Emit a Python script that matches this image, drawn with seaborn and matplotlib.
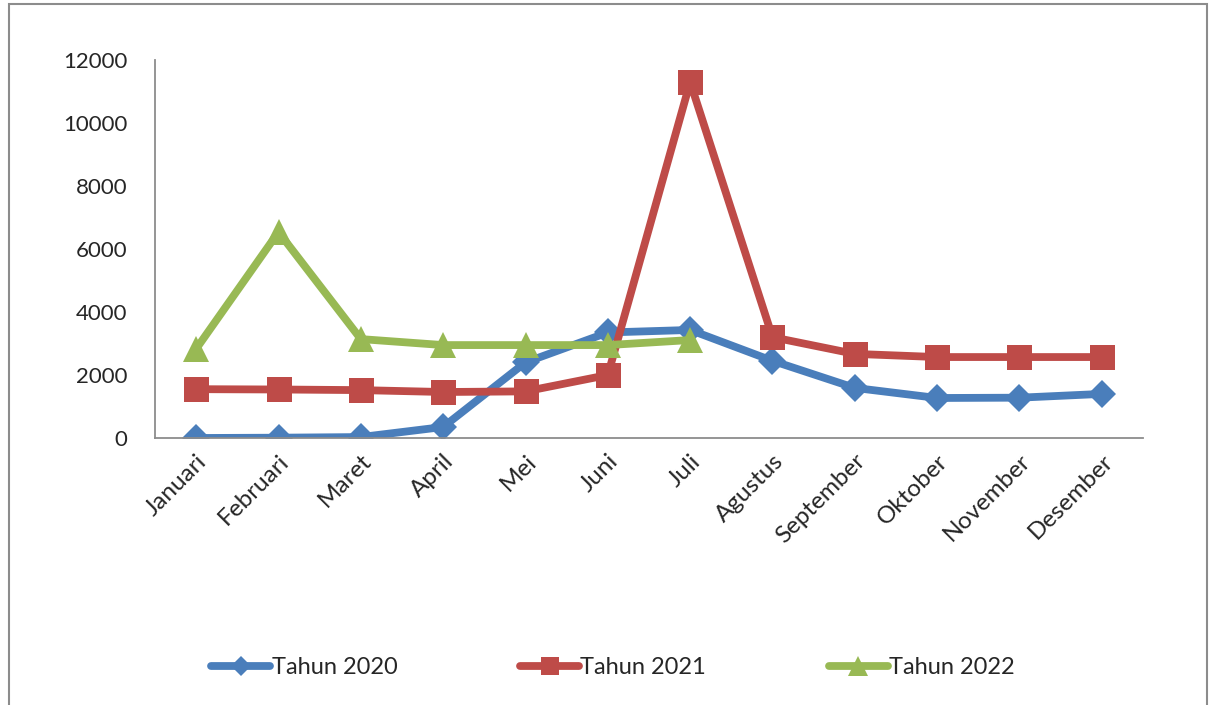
import matplotlib
matplotlib.use("Agg")
import matplotlib.pyplot as plt
import seaborn as sns
import pandas as pd
from matplotlib.patches import Rectangle

months = ['Januari', 'Februari', 'Maret', 'April', 'Mei', 'Juni', 'Juli',
          'Agustus', 'September', 'Oktober', 'November', 'Desember']
tahun_2020 = [0, 10, 30, 350, 2400, 3350, 3430, 2450, 1590, 1270, 1280, 1400]
tahun_2021 = [1550, 1540, 1520, 1460, 1480, 2000, 11300, 3200, 2670, 2570, 2570, 2570]
tahun_2022 = [2830, 6540, 3140, 2950, 2950, 2950, 3110]
series_names = ['Tahun 2020', 'Tahun 2021', 'Tahun 2022']
y_ticks = [0, 2000, 4000, 6000, 8000, 10000, 12000]

rows = []
for name, vals in zip(series_names, [tahun_2020, tahun_2021, tahun_2022]):
    for m, v in zip(months, vals):
        rows.append({'Bulan': m, 'Nilai': v, 'Seri': name})
df = pd.DataFrame(rows)

sns.set_style("white")
plt.rcParams['font.family'] = ['Lato', 'DejaVu Sans']

colors = {'Tahun 2020': '#4A7EBB', 'Tahun 2021': '#BE4B48', 'Tahun 2022': '#98B954'}
markers = {'Tahun 2020': 'D', 'Tahun 2021': 's', 'Tahun 2022': '^'}
msizes = {'Tahun 2020': 14, 'Tahun 2021': 18, 'Tahun 2022': 19}

fig = plt.figure(figsize=(12.1, 7.05), dpi=100)
ax = fig.add_axes([155 / 1210, 1 - 438 / 705, 988 / 1210, 378 / 705])

for name in series_names:
    sub = df[df['Seri'] == name]
    sns.lineplot(data=sub, x='Bulan', y='Nilai', ax=ax, color=colors[name],
                 marker=markers[name], markersize=msizes[name], markeredgewidth=0,
                 linewidth=5.6, label=name, sort=False)

ax.set_xlim(-0.5, len(months) - 0.5)
ax.set_ylim(0, 12000)
ax.set_yticks(y_ticks)
ax.set_yticklabels([str(t) for t in y_ticks], fontsize=16)
ax.set_xticks(range(len(months)))
ax.set_xticklabels(months, fontsize=17.5, rotation=45, ha='right', rotation_mode='anchor')
ax.tick_params(axis='both', length=0)
ax.tick_params(axis='y', pad=20)
ax.tick_params(axis='x', pad=9)
ax.set_xlabel('')
ax.set_ylabel('')

for side in ['top', 'right']:
    ax.spines[side].set_visible(False)
for side in ['left', 'bottom']:
    ax.spines[side].set_color('#8C8C8C')
    ax.spines[side].set_linewidth(1.3)

ax.legend_.remove()
handles, labels = ax.get_legend_handles_labels()
fig.legend(handles, labels, loc='center', bbox_to_anchor=(613 / 1210, 1 - 668 / 705),
           ncol=3, frameon=False, fontsize=17, handlelength=2.5, handletextpad=0.05,
           columnspacing=5.2, markerscale=0.75)

fig.patches.append(Rectangle((9 / 1210, -0.01), 1198 / 1210, 1 - 4 / 705 + 0.01,
                             transform=fig.transFigure, fill=False,
                             edgecolor='#8C8C8C', linewidth=1.5))

fig.savefig('out.png', dpi=100)
